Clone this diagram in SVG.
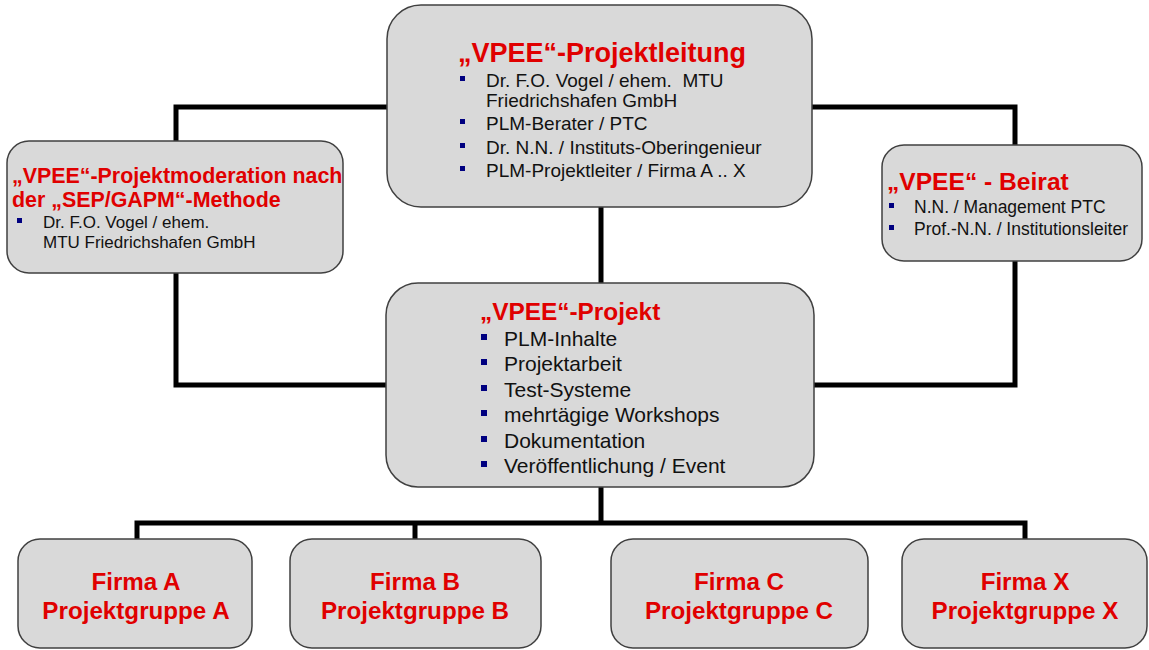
<svg xmlns="http://www.w3.org/2000/svg" width="1149" height="650" viewBox="0 0 1149 650">
  <style>
    .box { fill: #d9d9d9; stroke: #404040; stroke-width: 1.5; }
    .link { fill: none; stroke: #000; stroke-width: 5; stroke-linejoin: miter; }
    .title { font-family: "Liberation Sans", Arial, sans-serif; font-weight: bold; fill: #e00000; }
    .item { font-family: "Liberation Sans", Arial, sans-serif; fill: #111; }
    .dot { fill: #000080; }
    .firm { font-family: "Liberation Sans", Arial, sans-serif; font-weight: bold; fill: #e00000; font-size: 24.2px; text-anchor: middle; }
  </style>

  <rect width="1149" height="650" fill="#fff"/>

  <!-- connectors -->
  <g id="connectors">
    <path class="link" d="M387,107 H176 V141"/>
    <path class="link" d="M176,273 V385 H386"/>
    <path class="link" d="M812,107 H1015 V145"/>
    <path class="link" d="M1015,261 V385 H814"/>
    <path class="link" d="M601,207 V283"/>
    <path class="link" d="M601,487 V523"/>
    <path class="link" d="M137,540 V523 H1025 V540"/>
    <path class="link" d="M415,523 V540"/>
  </g>

  <!-- project management -->
  <g id="projektleitung">
    <rect class="box" x="387" y="5" width="425" height="202" rx="34"/>
    <text class="title" x="458" y="62" font-size="27">„VPEE“-Projektleitung</text>
    <g class="item" font-size="19">
      <rect class="dot" x="460" y="76" width="5" height="5"/>
      <text x="486" y="87">Dr. F.O. Vogel / ehem.&#160; MTU</text>
      <text x="486" y="107">Friedrichshafen GmbH</text>
      <rect class="dot" x="460" y="119" width="5" height="5"/>
      <text x="486" y="130">PLM-Berater / PTC</text>
      <rect class="dot" x="460" y="143" width="5" height="5"/>
      <text x="486" y="154">Dr. N.N. / Instituts-Oberingenieur</text>
      <rect class="dot" x="460" y="166" width="5" height="5"/>
      <text x="486" y="177">PLM-Projektleiter / Firma A .. X</text>
    </g>
  </g>

  <!-- moderation -->
  <g id="moderation">
    <rect class="box" x="7" y="141" width="336" height="132" rx="22"/>
    <text class="title" x="12" y="183" font-size="21.4">„VPEE“-Projektmoderation nach</text>
    <text class="title" x="12" y="207" font-size="21.4">der „SEP/GAPM“-Methode</text>
    <g class="item" font-size="17">
      <rect class="dot" x="17" y="218" width="5" height="5"/>
      <text x="43" y="228">Dr. F.O. Vogel / ehem.</text>
      <text x="43" y="248">MTU Friedrichshafen GmbH</text>
    </g>
  </g>

  <!-- advisory board -->
  <g id="beirat">
    <rect class="box" x="882" y="145" width="260" height="116" rx="22"/>
    <text class="title" x="887" y="190" font-size="24.6">„VPEE“ - Beirat</text>
    <g class="item" font-size="17.5">
      <rect class="dot" x="889" y="203" width="5" height="5"/>
      <text x="914" y="213">N.N. / Management PTC</text>
      <rect class="dot" x="889" y="225" width="5" height="5"/>
      <text x="914" y="235">Prof.-N.N. / Institutionsleiter</text>
    </g>
  </g>

  <!-- project -->
  <g id="projekt">
    <rect class="box" x="386" y="283" width="428" height="204" rx="32"/>
    <text class="title" x="480" y="320" font-size="24.4">„VPEE“-Projekt</text>
    <g class="item" font-size="21">
      <rect class="dot" x="481" y="334" width="6" height="6"/>
      <text x="504" y="346">PLM-Inhalte</text>
      <rect class="dot" x="481" y="359" width="6" height="6"/>
      <text x="504" y="371">Projektarbeit</text>
      <rect class="dot" x="481" y="385" width="6" height="6"/>
      <text x="504" y="397">Test-Systeme</text>
      <rect class="dot" x="481" y="410" width="6" height="6"/>
      <text x="504" y="422">mehrtägige Workshops</text>
      <rect class="dot" x="481" y="436" width="6" height="6"/>
      <text x="504" y="448">Dokumentation</text>
      <rect class="dot" x="481" y="461" width="6" height="6"/>
      <text x="504" y="473">Veröffentlichung / Event</text>
    </g>
  </g>

  <!-- project groups -->
  <g id="firma-a">
    <rect class="box" x="18" y="539" width="234" height="109" rx="22"/>
    <text class="firm" x="136" y="590">Firma A</text>
    <text class="firm" x="136" y="619">Projektgruppe A</text>
  </g>
  <g id="firma-b">
    <rect class="box" x="290" y="539" width="251" height="109" rx="22"/>
    <text class="firm" x="415" y="590">Firma B</text>
    <text class="firm" x="415" y="619">Projektgruppe B</text>
  </g>
  <g id="firma-c">
    <rect class="box" x="611" y="539" width="257" height="109" rx="22"/>
    <text class="firm" x="739" y="590">Firma C</text>
    <text class="firm" x="739" y="619">Projektgruppe C</text>
  </g>
  <g id="firma-x">
    <rect class="box" x="902" y="539" width="245" height="109" rx="22"/>
    <text class="firm" x="1025" y="590">Firma X</text>
    <text class="firm" x="1025" y="619">Projektgruppe X</text>
  </g>
</svg>
